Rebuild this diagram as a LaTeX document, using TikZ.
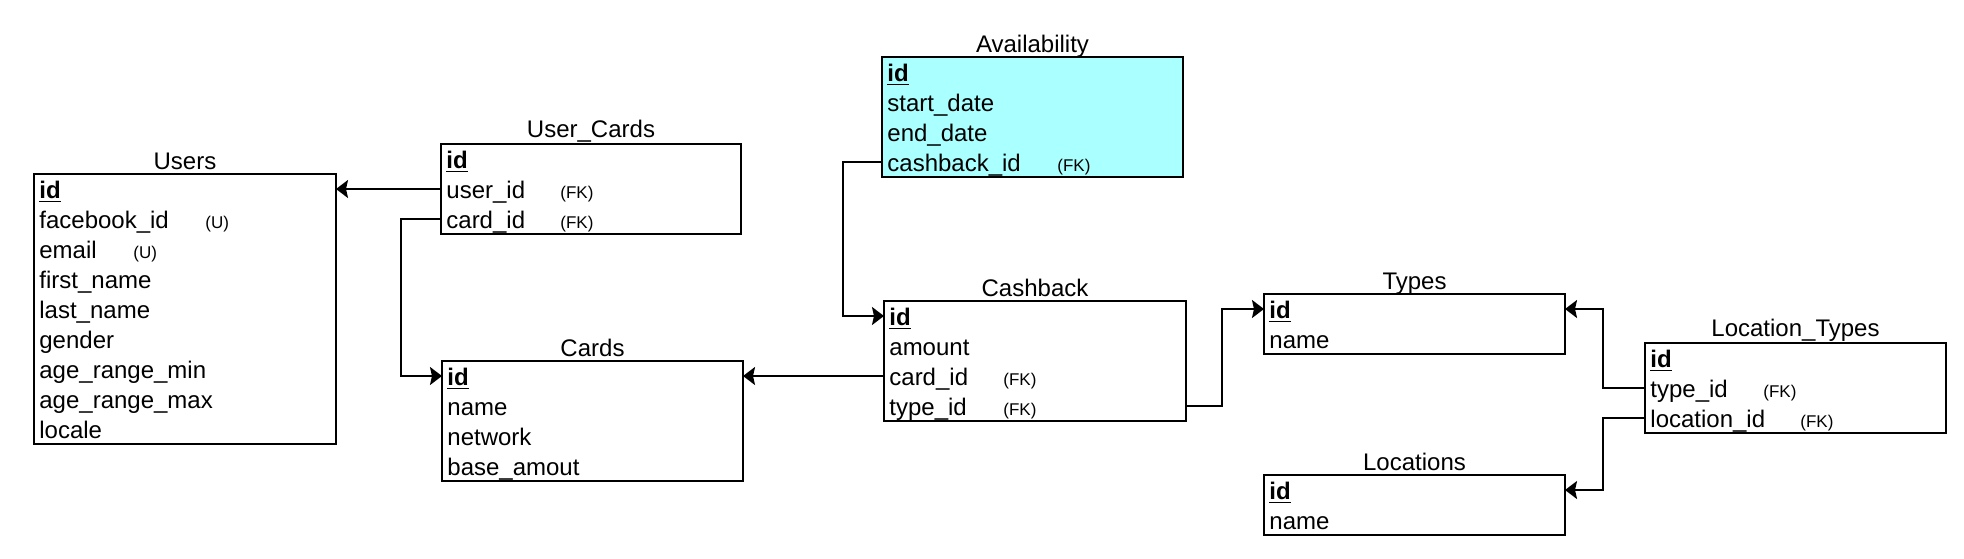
\documentclass[tikz,border=0pt]{standalone}
\usepackage{fontspec}
\setmainfont{Liberation Sans}
\usetikzlibrary{arrows.meta,calc}
\definecolor{availfill}{RGB}{170,255,255}
\newcommand\pkid{\textbf{\underline{id}}}
\begin{document}
\begin{tikzpicture}[x=0.5pt,y=-0.5pt,
 tbl/.style={draw=black,line width=1pt,anchor=north west,inner sep=0pt,outer sep=0pt,fill=white},
 fld/.style={anchor=base west,inner sep=0pt,font=\fontsize{12}{14}\selectfont},
 ttl/.style={anchor=base,inner sep=0pt,font=\fontsize{12}{14}\selectfont},
 tag/.style={anchor=base west,inner sep=0pt,font=\fontsize{8.5}{10}\selectfont},
 conn/.style={draw=black,line width=1pt},
 arr/.style={-{Stealth[length=6pt,width=9pt,inset=1pt]}}]
\useasboundingbox (0,0) rectangle (1964,558);

% Users
\node[tbl,minimum width=151pt,minimum height=135pt] (users) at (34,174) {};
\node[ttl] (users-t) at ($(users.north)+(0,-5)$) {Users};
\node[fld] (users-0) at ($(users.north west)+(5,24)$) {\pkid};
\node[fld] (users-1) at ($(users.north west)+(5,54)$) {facebook\_id};
\node[fld] (users-2) at ($(users.north west)+(5,84)$) {email};
\node[fld] (users-3) at ($(users.north west)+(5,114)$) {first\_name};
\node[fld] (users-4) at ($(users.north west)+(5,144)$) {last\_name};
\node[fld] (users-5) at ($(users.north west)+(5,174)$) {gender};
\node[fld] (users-6) at ($(users.north west)+(5,204)$) {age\_range\_min};
\node[fld] (users-7) at ($(users.north west)+(5,234)$) {age\_range\_max};
\node[fld] (users-8) at ($(users.north west)+(5,264)$) {locale};
\node[tag] (users-u1) at ($(users.north west)+(171,54)$) {(U)};
\node[tag] (users-u2) at ($(users.north west)+(99,84)$) {(U)};

% User_Cards
\node[tbl,minimum width=150pt,minimum height=45pt] (uc) at (441,144) {};
\node[ttl] (uc-t) at ($(uc.north)+(0,-7)$) {User\_Cards};
\node[fld] (uc-0) at ($(uc.north west)+(5,24)$) {\pkid};
\node[fld] (uc-1) at ($(uc.north west)+(5,54)$) {user\_id};
\node[fld] (uc-2) at ($(uc.north west)+(5,84)$) {card\_id};
\node[tag] (uc-f1) at ($(uc.north west)+(119,54)$) {(FK)};
\node[tag] (uc-f2) at ($(uc.north west)+(119,84)$) {(FK)};

% Cards
\node[tbl,minimum width=150.5pt,minimum height=60pt] (cards) at (442,361) {};
\node[ttl] (cards-t) at ($(cards.north)+(0,-5)$) {Cards};
\node[fld] (cards-0) at ($(cards.north west)+(5,24)$) {\pkid};
\node[fld] (cards-1) at ($(cards.north west)+(5,54)$) {name};
\node[fld] (cards-2) at ($(cards.north west)+(5,84)$) {network};
\node[fld] (cards-3) at ($(cards.north west)+(5,114)$) {base\_amout};

% Availability
\node[tbl,fill=availfill,minimum width=150.5pt,minimum height=60pt] (avail) at (882,57) {};
\node[ttl] (avail-t) at ($(avail.north)+(0,-5)$) {Availability};
\node[fld] (avail-0) at ($(avail.north west)+(5,24)$) {\pkid};
\node[fld] (avail-1) at ($(avail.north west)+(5,54)$) {start\_date};
\node[fld] (avail-2) at ($(avail.north west)+(5,84)$) {end\_date};
\node[fld] (avail-3) at ($(avail.north west)+(5,114)$) {cashback\_id};
\node[tag] (avail-f3) at ($(avail.north west)+(175,114)$) {(FK)};

% Cashback
\node[tbl,minimum width=151pt,minimum height=60pt] (cb) at (884,301) {};
\node[ttl] (cb-t) at ($(cb.north)+(0,-5)$) {Cashback};
\node[fld] (cb-0) at ($(cb.north west)+(5,24)$) {\pkid};
\node[fld] (cb-1) at ($(cb.north west)+(5,54)$) {amount};
\node[fld] (cb-2) at ($(cb.north west)+(5,84)$) {card\_id};
\node[fld] (cb-3) at ($(cb.north west)+(5,114)$) {type\_id};
\node[tag] (cb-f2) at ($(cb.north west)+(119,84)$) {(FK)};
\node[tag] (cb-f3) at ($(cb.north west)+(119,114)$) {(FK)};

% Types
\node[tbl,minimum width=150.5pt,minimum height=30pt] (types) at (1264,294) {};
\node[ttl] (types-t) at ($(types.north)+(0,-5)$) {Types};
\node[fld] (types-0) at ($(types.north west)+(5,24)$) {\pkid};
\node[fld] (types-1) at ($(types.north west)+(5,54)$) {name};

% Locations
\node[tbl,minimum width=150.5pt,minimum height=30pt] (loc) at (1264,475) {};
\node[ttl] (loc-t) at ($(loc.north)+(0,-5)$) {Locations};
\node[fld] (loc-0) at ($(loc.north west)+(5,24)$) {\pkid};
\node[fld] (loc-1) at ($(loc.north west)+(5,54)$) {name};

% Location_Types
\node[tbl,minimum width=150.5pt,minimum height=45pt] (lt) at (1645,343) {};
\node[ttl] (lt-t) at ($(lt.north)+(0,-7)$) {Location\_Types};
\node[fld] (lt-0) at ($(lt.north west)+(5,24)$) {\pkid};
\node[fld] (lt-1) at ($(lt.north west)+(5,54)$) {type\_id};
\node[fld] (lt-2) at ($(lt.north west)+(5,84)$) {location\_id};
\node[tag] (lt-f1) at ($(lt.north west)+(118,54)$) {(FK)};
\node[tag] (lt-f2) at ($(lt.north west)+(155,84)$) {(FK)};

% connector ends
\coordinate (uc-user) at ($(uc.north west)+(0,45)$);
\coordinate (uc-card) at ($(uc.north west)+(0,75)$);
\coordinate (cards-id) at ($(cards.north west)+(0,15)$);
\coordinate (av-cb) at ($(avail.north west)+(0,105)$);
\coordinate (cb-id) at ($(cb.north west)+(0,15)$);
\coordinate (cb-card) at ($(cb.north west)+(0,75)$);
\coordinate (cb-type) at ($(cb.north east)+(0,105)$);
\coordinate (types-idl) at ($(types.north west)+(0,15)$);
\coordinate (types-idr) at ($(types.north east)+(0,15)$);
\coordinate (lt-type) at ($(lt.north west)+(0,45)$);
\coordinate (lt-loc) at ($(lt.north west)+(0,75)$);
\coordinate (loc-id) at ($(loc.north east)+(0,15)$);

% connectors
\draw[conn,arr] (uc-user) -- (uc-user -| users.east);
\draw[conn,arr] (uc-card) -- ++(-40,0) |- (cards-id);
\draw[conn,arr] (av-cb) -- ++(-39,0) |- (cb-id);
\draw[conn,arr] (cb-card) -- (cb-card -| cards.east);
\draw[conn,arr] (cb-type) -- ++(36,0) |- (types-idl);
\draw[conn,arr] (lt-type) -- ++(-42,0) |- (types-idr);
\draw[conn,arr] (lt-loc) -- ++(-42,0) |- (loc-id);
\end{tikzpicture}
\end{document}
